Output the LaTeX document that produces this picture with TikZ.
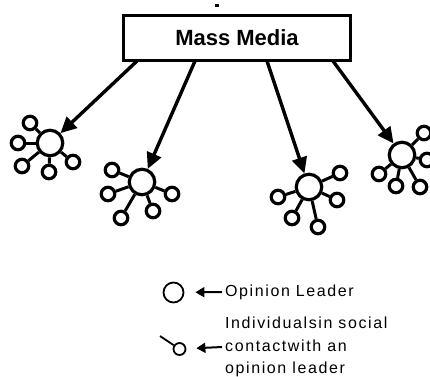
\documentclass[tikz,border=0pt]{standalone}
\usepackage{fontspec}
\setmainfont{Liberation Sans}
\usetikzlibrary{arrows.meta}
\begin{document}
\begin{tikzpicture}[x=1pt,y=-1pt,
  hub/.style={circle,draw,line width=3.2pt,minimum size=25.5pt,inner sep=0pt},
  leaf/.style={circle,draw,line width=3.2pt,minimum size=13.5pt,inner sep=0pt},
  spoke/.style={line width=3pt},
  media/.style={-{Triangle[length=16pt,width=15pt]},line width=3.4pt},
  keyhub/.style={circle,draw,line width=1.8pt,minimum size=20pt,inner sep=0pt},
  keyleaf/.style={circle,draw,line width=1.8pt,minimum size=12pt,inner sep=0pt},
  keyarrow/.style={-{Triangle[length=9pt,width=10pt]},line width=2pt},
  keytext/.style={anchor=west,inner sep=0pt,
    font=\fontsize{16}{19}\selectfont\addfontfeature{LetterSpace=10},
    text height=12pt,text depth=3pt}
]
\useasboundingbox (0,0) rectangle (430,376);
\fill[white] (0,0) rectangle (430,376);
\clip (0,0) rectangle (430,376);

% small mark above the box
\fill (215,4) rectangle (219,6.5);

% source box
\node[draw,line width=3pt,minimum width=227pt,minimum height=45pt,inner sep=0pt,
      font=\fontsize{22}{26}\selectfont\bfseries] (mm) at (237,38) {Mass Media};

% group 1
\node[hub] (c1) at (50,143) {};
\node[leaf] (c1a) at (30,123) {};
\node[leaf] (c1b) at (18,143) {};
\node[leaf] (c1c) at (22,166) {};
\node[leaf] (c1d) at (49,172) {};
\node[leaf] (c1e) at (73,162) {};
\foreach \s in {a,b,c,d,e} \draw[spoke] (c1) -- (c1\s);

% group 2
\node[hub] (c2) at (142,182) {};
\node[leaf] (c2a) at (112,170) {};
\node[leaf] (c2b) at (108,194) {};
\node[leaf] (c2c) at (121,218) {};
\node[leaf] (c2d) at (153,211) {};
\node[leaf] (c2e) at (172,194) {};
\foreach \s in {a,b,c,d,e} \draw[spoke] (c2) -- (c2\s);

% group 3
\node[hub] (c3) at (309,187) {};
\node[leaf] (c3a) at (340,173) {};
\node[leaf] (c3b) at (337,200) {};
\node[leaf] (c3c) at (318,227) {};
\node[leaf] (c3d) at (292,218) {};
\node[leaf] (c3e) at (278,197) {};
\foreach \s in {a,b,c,d,e} \draw[spoke] (c3) -- (c3\s);

% group 4
\node[hub] (c4) at (402,155) {};
\node[leaf] (c4a) at (379,174) {};
\node[leaf] (c4b) at (396,186) {};
\node[leaf] (c4c) at (420,187) {};
\node[leaf] (c4d) at (427,160) {};
\node[leaf] (c4e) at (424,133) {};
\foreach \s in {a,b,c,d,e} \draw[spoke] (c4) -- (c4\s);

% media arrows
\coordinate (m1) at (137,61);
\coordinate (m2) at (195,61);
\coordinate (m3) at (267,61);
\coordinate (m4) at (333,61);
\draw[media] (m1) -- (c1);
\draw[media] (m2) -- (c2);
\draw[media] (m3) -- (c3);
\draw[media] (m4) -- (c4);

% key
\node[keyhub] (k1) at (173.5,292.5) {};
\node[keytext] (t1) at (225,292) {Opinion Leader};
\draw[keyarrow,shorten >=11pt] (t1.west) ++(-3,0) coordinate (t1s) (t1s) -- (k1);

\node[keyleaf] (k2) at (179.5,349) {};
\coordinate (k2s) at (160,336);
\draw[line width=1.8pt] (k2s) -- (k2);
\node[keytext] (t2) at (225,324) {Individualsin social};
\node[keytext] (t3) at (225,347) {contactwith an};
\node[keytext] (t4) at (225,369) {opinion leader};
\draw[keyarrow,shorten >=10pt] (t3.west) ++(-3,0) coordinate (t3s) (t3s) -- (k2);
\end{tikzpicture}
\end{document}
